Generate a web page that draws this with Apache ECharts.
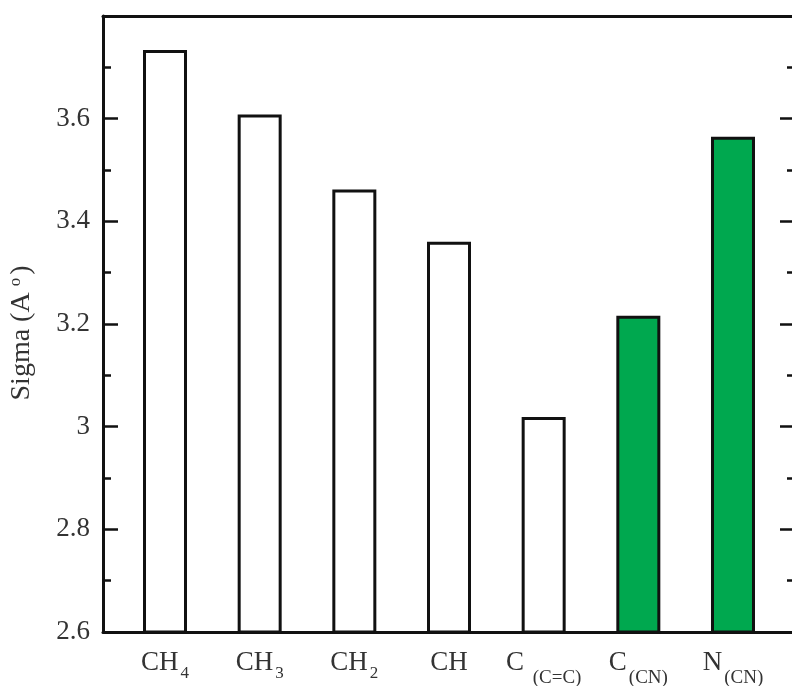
<!DOCTYPE html>
<html>
<head>
<meta charset="utf-8">
<script src="https://cdn.jsdelivr.net/npm/echarts@6/dist/echarts.min.js"></script>
<style>
html,body{margin:0;padding:0;background:#fff;}
#chart{width:792px;height:686px;}
</style>
</head>
<body>
<div id="chart"></div>
<script>
// ---- data ----
const labelMain = ['CH', 'CH', 'CH', 'CH', 'C ', 'C', 'N'];
const labelSub = ['4', '3', '2', '', '(C=C)', '(CN)', '(CN)'];
const sigma = [3.734, 3.608, 3.462, 3.360, 3.019, 3.216, 3.565];
const yTicks = [2.6, 2.8, 3.0, 3.2, 3.4, 3.6];
const yTitle = 'Sigma (A';
const yTitleSup = 'o';

const GREEN = '#00a84f';
const FONT = '"Liberation Serif", "Times New Roman", serif';

const positions = sigma.map((v, i) => i + 1);
const barData = sigma.map((v, i) => [positions[i], v]);

const chart = echarts.init(document.getElementById('chart'), null, {renderer: 'canvas'});

function catLabel(v) {
  const i = Math.round(v) - 1;
  if (i < 0 || i >= labelMain.length) return '';
  const sub = labelSub[i];
  if (!sub) return '{m|' + labelMain[i] + '}';
  const style = sub.charAt(0) === '(' ? 'p' : 's';
  return '{m|' + labelMain[i] + '}{' + style + '|' + sub + '}';
}

const option = {
  backgroundColor: '#fff',
  animation: false,
  grid: {left: 103, top: 16, width: 692, height: 616, containLabel: false, outerBoundsMode: 'none'},
  xAxis: [{
    type: 'value',
    min: 0.345,
    max: 7.655,
    position: 'bottom',
    splitLine: {show: false},
    axisLine: {show: true, lineStyle: {color: '#111', width: 3}},
    axisTick: {show: false},
    axisLabel: {
      customValues: positions,
      margin: 17,
      formatter: catLabel,
      rich: {
        m: {fontFamily: FONT, fontSize: 27, color: '#333', verticalAlign: 'top', lineHeight: 27},
        s: {fontFamily: FONT, fontSize: 17, color: '#333', verticalAlign: 'top', padding: [16, 0, 0, 2], lineHeight: 17},
        p: {fontFamily: FONT, fontSize: 19, color: '#333', verticalAlign: 'top', padding: [20, 0, 0, 2], lineHeight: 19}
      }
    }
  }, {
    type: 'value',
    min: 0.345,
    max: 7.655,
    position: 'top',
    splitLine: {show: false},
    axisLine: {show: true, lineStyle: {color: '#111', width: 3}},
    axisTick: {show: false},
    axisLabel: {show: false}
  }],
  yAxis: [{
    type: 'value',
    min: 2.6,
    max: 3.8,
    interval: 0.2,
    position: 'left',
    splitLine: {show: false},
    axisLine: {show: true, lineStyle: {color: '#111', width: 3}},
    axisTick: {show: true, inside: true, length: 15, lineStyle: {color: '#111', width: 2.5}},
    minorTick: {show: true, splitNumber: 2, length: 8, lineStyle: {color: '#111', width: 2.5}},
    axisLabel: {
      margin: 13,
      fontFamily: FONT,
      fontSize: 27,
      color: '#333',
      formatter: function (v) {
        const r = Math.round(v * 10) / 10;
        if (yTicks.indexOf(r) < 0) return '';
        return String(r);
      }
    },
    name: yTitle + '{sup|' + yTitleSup + '})',
    nameLocation: 'middle',
    nameRotate: 90,
    nameGap: 67,
    nameTextStyle: {
      fontFamily: FONT,
      fontSize: 28,
      color: '#333',
      padding: [0, 18, 0, 0],
      rich: {
        sup: {fontFamily: FONT, fontSize: 17, color: '#333', verticalAlign: 'top', padding: [0, 3, 12, 6]}
      }
    }
  }, {
    type: 'value',
    min: 2.6,
    max: 3.8,
    interval: 0.2,
    position: 'right',
    splitLine: {show: false},
    axisLine: {show: true, lineStyle: {color: '#111', width: 3}},
    axisTick: {show: true, inside: true, length: 15, lineStyle: {color: '#111', width: 2.5}},
    minorTick: {show: true, splitNumber: 2, length: 8, lineStyle: {color: '#111', width: 2.5}},
    axisLabel: {show: false}
  }],
  series: [{
    type: 'bar',
    xAxisIndex: 0,
    yAxisIndex: 0,
    barWidth: 44,
    clip: true,
    data: barData,
    itemStyle: {
      color: function (p) { return labelSub[p.dataIndex] === '(CN)' ? GREEN : '#ffffff'; },
      borderColor: '#111',
      borderWidth: 3
    }
  }]
};
chart.setOption(option);
</script>
</body>
</html>
